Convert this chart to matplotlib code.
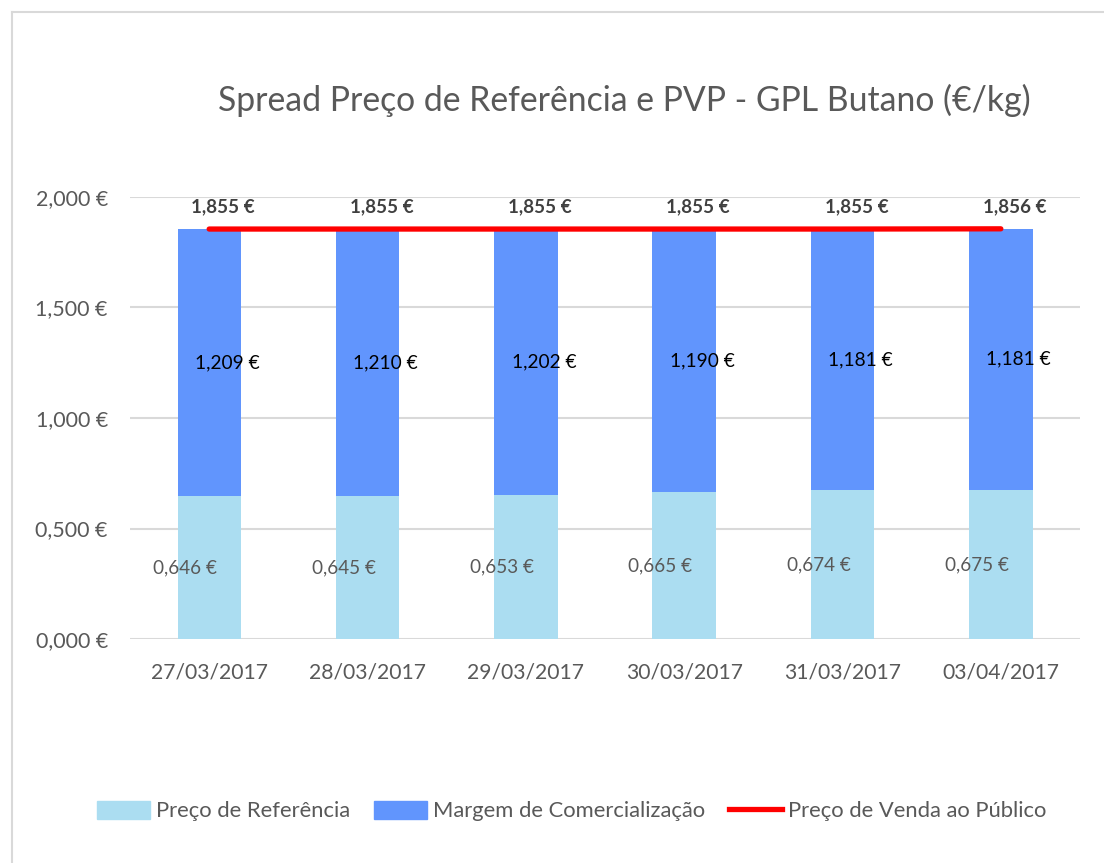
import matplotlib.pyplot as plt
import numpy as np
from matplotlib.lines import Line2D
from matplotlib.patches import Patch

plt.rcParams['font.family'] = ['Lato', 'DejaVu Sans']

# data
dates = ["27/03/2017", "28/03/2017", "29/03/2017", "30/03/2017", "31/03/2017", "03/04/2017"]
preco_ref = [0.646, 0.645, 0.653, 0.665, 0.674, 0.675]
margem = [1.209, 1.210, 1.202, 1.190, 1.181, 1.181]
pvp = [1.855, 1.855, 1.855, 1.855, 1.855, 1.856]

c_ref = '#ABDDF1'
c_marg = '#6195FD'
c_pvp = '#FF0000'
txt = '#595959'


def eur(v):
    return f"{v:.3f} €".replace('.', ',')


fig = plt.figure(figsize=(11.04, 8.63), dpi=100)
ax = fig.add_axes([130 / 1104, 1 - 639 / 863, 950 / 1104, 442 / 863])

x = np.arange(len(dates))
ax.bar(x, preco_ref, width=0.4, color=c_ref, zorder=2)
ax.bar(x, margem, width=0.4, bottom=preco_ref, color=c_marg, zorder=2)
ax.plot(x, pvp, color=c_pvp, lw=3.8, solid_capstyle='round', zorder=3)

# data labels
for i in range(len(dates)):
    ax.annotate(eur(preco_ref[i]), (x[i], preco_ref[i] / 2), xytext=(-24, 0),
                textcoords='offset pixels', ha='center', va='center',
                fontsize=13.6, color=txt, zorder=4)
    ax.annotate(eur(margem[i]), (x[i], preco_ref[i] + margem[i] / 2), xytext=(18, 0),
                textcoords='offset pixels', ha='center', va='center',
                fontsize=13.8, color='black', zorder=4)
    ax.annotate(eur(pvp[i]), (x[i], pvp[i]), xytext=(14, 22),
                textcoords='offset pixels', ha='center', va='center',
                fontsize=13.6, fontweight='bold', color='#404040', zorder=4)

ax.set_xlim(-0.5, len(dates) - 0.5)
ax.set_ylim(0, 2.0)
ax.set_yticks(np.arange(0, 2.01, 0.5))
ax.set_yticklabels([eur(v) for v in np.arange(0, 2.01, 0.5)])
ax.set_xticks(x)
ax.set_xticklabels(dates)
ax.tick_params(length=0, colors=txt)
ax.tick_params(axis='y', pad=16, labelsize=15.5)
ax.tick_params(axis='x', pad=17, labelsize=15.2)
ax.grid(axis='y', color='#D9D9D9', lw=1.5, zorder=0)
for s in ax.spines.values():
    s.set_visible(False)

fig.text(624 / 1104, 1 - 100 / 863, "Spread Preço de Referência e PVP - GPL Butano (€/kg)",
         ha='center', va='center', fontsize=24.3, color=txt)

handles = [Patch(color=c_ref), Patch(color=c_marg), Line2D([], [], color=c_pvp, lw=3.8)]
labels = ["Preço de Referência", "Margem de Comercialização", "Preço de Venda ao Público"]
fig.legend(handles, labels, loc='center', bbox_to_anchor=(572 / 1104, 1 - 811 / 863),
           ncol=3, frameon=False, fontsize=15.8, labelcolor=txt, handlelength=2.4,
           handleheight=0.9, handletextpad=0.28, columnspacing=1.1)

# outer chart border (top and left visible)
fig.add_artist(Line2D([12 / 1104, 12 / 1104], [0, 1 - 12 / 863], color='#D9D9D9', lw=1.5))
fig.add_artist(Line2D([12 / 1104, 1], [1 - 12 / 863, 1 - 12 / 863], color='#D9D9D9', lw=1.5))

fig.savefig('out.png', dpi=100)
